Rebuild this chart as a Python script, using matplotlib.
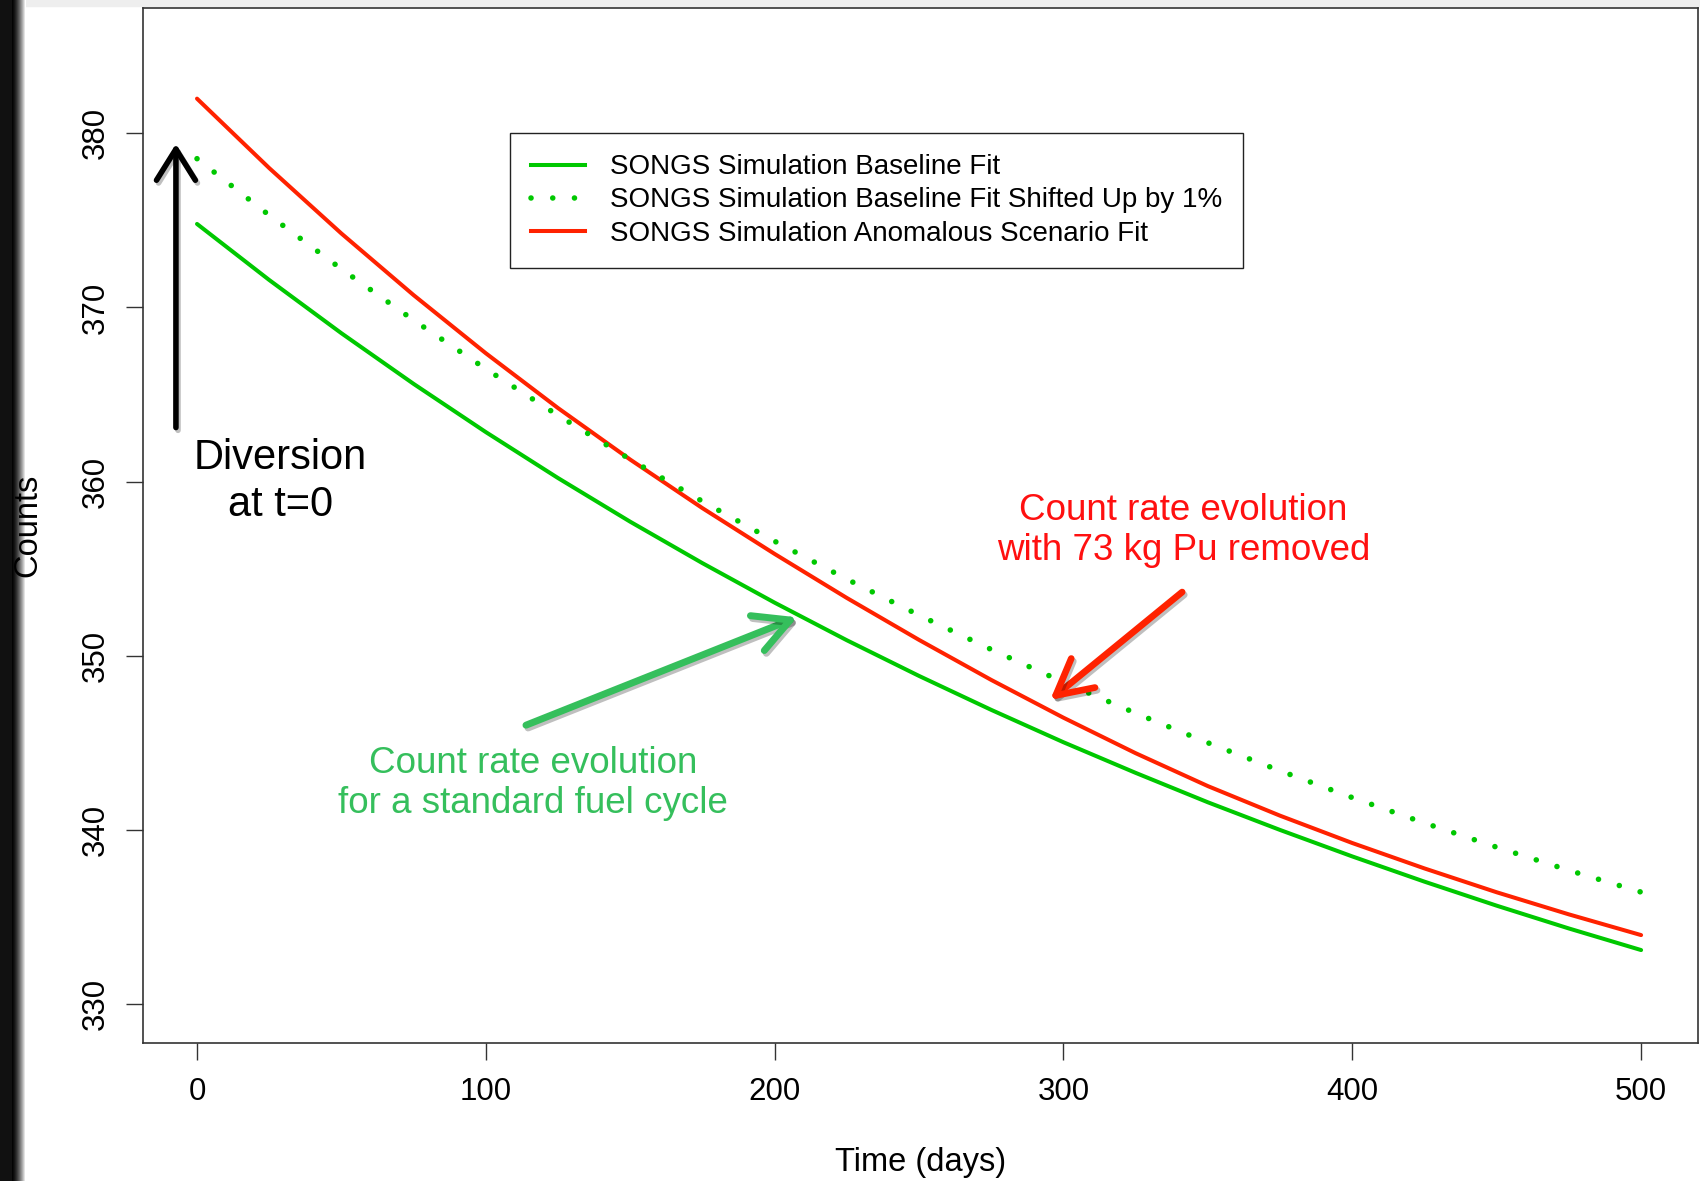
import matplotlib
matplotlib.use("Agg")
import matplotlib.pyplot as plt
import matplotlib.patheffects as pe
from matplotlib.lines import Line2D
import numpy as np

# --- Matplotlib settings ---
plt.rcParams.update(
    {
        "font.family": ["Liberation Sans", "DejaVu Sans"],
        "axes.linewidth": 1.2,
        "axes.edgecolor": "#333333",
    }
)

# --- data ---
days = [0, 25, 50, 75, 100, 125, 150, 175, 200, 225, 250,
        275, 300, 325, 350, 375, 400, 425, 450, 475, 500]
baseline = [374.80, 371.58, 368.52, 365.61, 362.84, 360.20, 357.69,
            355.31, 353.04, 350.88, 348.83, 346.88, 345.02, 343.26,
            341.57, 339.98, 338.46, 337.01, 335.63, 334.32, 333.08]
shifted = [378.55, 375.30, 372.21, 369.27, 366.47, 363.80, 361.27,
           358.86, 356.57, 354.39, 352.32, 350.35, 348.47, 346.69,
           344.99, 343.38, 341.84, 340.38, 338.99, 337.66, 336.41]
anomalous = [382.00, 378.01, 374.25, 370.71, 367.37, 364.22, 361.26,
             358.47, 355.84, 353.31, 350.90, 348.60, 346.43, 344.39,
             342.50, 340.80, 339.23, 337.77, 336.40, 335.13, 333.94]
labels = [
    "SONGS Simulation Baseline Fit",
    "SONGS Simulation Baseline Fit Shifted Up by 1%",
    "SONGS Simulation Anomalous Scenario Fit",
]
yticks = [330, 340, 350, 360, 370, 380]
xticks = [0, 100, 200, 300, 400, 500]

GREEN = "#00c800"
RED = "#ff2200"
TXT_GREEN = "#35bf5c"
TXT_RED = "#ff1010"
DOTS = (0, (0.01, 3.9))


def main():
    fig = plt.figure(figsize=(17, 11.81), dpi=100)
    ax = fig.add_axes([143 / 1700, 1 - 1043 / 1181, 1555 / 1700, 1035.4 / 1181])

    # dark band on the left edge (screenshot shadow)
    band = fig.add_axes([0, 0, 26 / 1700, 1], zorder=-5)
    ramp = np.concatenate([np.full(12, 0.07), np.linspace(0.07, 1.0, 14) ** 1.6])
    band.imshow(ramp[None, :], cmap="gray", vmin=0, vmax=1, aspect="auto",
                extent=[0, 1, 0, 1])
    band.axis("off")
    fig.patches.append(plt.Rectangle((0, 1 - 6 / 1181), 1, 6 / 1181,
                                     transform=fig.transFigure,
                                     color="#eeeeee", zorder=-6))

    lw = 2.9
    ax.plot(days, baseline, "-", color=GREEN, linewidth=lw, zorder=2,
            solid_capstyle="round")
    ax.plot(days, anomalous, "-", color=RED, linewidth=lw, zorder=2.1,
            solid_capstyle="round")
    ax.plot(days, shifted, color=GREEN, linewidth=4.0, zorder=2.2,
            linestyle=DOTS, dash_capstyle="round")

    ax.set_xlim(-18.7, 519.7)
    ax.set_ylim(327.74, 387.23)
    ax.set_xticks(xticks)
    ax.set_yticks(yticks)
    ax.tick_params(direction="out", length=12.5, width=1.0, color="#333333",
                   labelsize=22.5)
    ax.tick_params(axis="x", pad=12)
    ax.tick_params(axis="y", pad=10.5, labelrotation=90)
    for lbl in ax.get_yticklabels():
        lbl.set_va("center")

    ax.set_xlabel("Time (days)", fontsize=23.5)
    ax.xaxis.set_label_coords(0.5, -0.1)
    ax.set_ylabel("Counts", fontsize=23.5)
    ax.yaxis.set_label_coords(-0.064, 0.5)

    # legend
    handles = [
        Line2D([], [], color=GREEN, linewidth=lw),
        Line2D([], [], color=GREEN, linewidth=4.0, linestyle=DOTS,
               dash_capstyle="round"),
        Line2D([], [], color=RED, linewidth=lw),
    ]
    leg = ax.legend(handles, labels, loc="upper left",
                    bbox_to_anchor=(0.2358, 0.8785), borderaxespad=0,
                    fontsize=20, frameon=True, fancybox=False,
                    edgecolor="#222222", framealpha=1, borderpad=0.75,
                    handlelength=1.95, handletextpad=0.9, labelspacing=0.26)
    leg.get_frame().set_linewidth(1.0)

    shadow = [pe.SimpleLineShadow(offset=(1.5, -2.0), alpha=0.25, rho=0.3),
              pe.Normal()]

    # black arrow: diversion at t=0
    a1 = ax.annotate("", xy=(-7.3, 379.4), xytext=(-7.3, 363.1),
                     arrowprops=dict(arrowstyle="->,head_length=0.8,head_width=0.5",
                                     color="black", lw=4.0, mutation_scale=28,
                                     shrinkA=0, shrinkB=0, capstyle="round",
                                     joinstyle="round"))
    a1.arrow_patch.set_path_effects(shadow)
    ax.text(28.9, 360.0, "Diversion\nat t=0", fontsize=30, ha="center",
            va="center", linespacing=1.2, color="black")

    # green annotation
    a2 = ax.annotate("", xy=(207.8, 352.2), xytext=(113.9, 346.0),
                     arrowprops=dict(arrowstyle="->,head_length=0.85,head_width=0.45",
                                     color=TXT_GREEN, lw=5.0, mutation_scale=30,
                                     shrinkA=0, shrinkB=0, capstyle="round",
                                     joinstyle="round"))
    a2.arrow_patch.set_path_effects(shadow)
    ax.text(116.3, 342.65, "Count rate evolution\nfor a standard fuel cycle",
            fontsize=26.5, ha="center", va="center", linespacing=1.2,
            color=TXT_GREEN)

    # red annotation
    a3 = ax.annotate("", xy=(295.4, 347.45), xytext=(341.1, 353.65),
                     arrowprops=dict(arrowstyle="->,head_length=0.85,head_width=0.45",
                                     color=RED, lw=4.8, mutation_scale=30,
                                     shrinkA=0, shrinkB=0, capstyle="round",
                                     joinstyle="round"))
    a3.arrow_patch.set_path_effects(shadow)
    ax.text(341.6, 357.17, "Count rate evolution\nwith 73 kg Pu removed",
            fontsize=26.5, ha="center", va="center", linespacing=1.2,
            color=TXT_RED)

    fig.savefig("out.png", dpi=100)


if __name__ == "__main__":
    main()
